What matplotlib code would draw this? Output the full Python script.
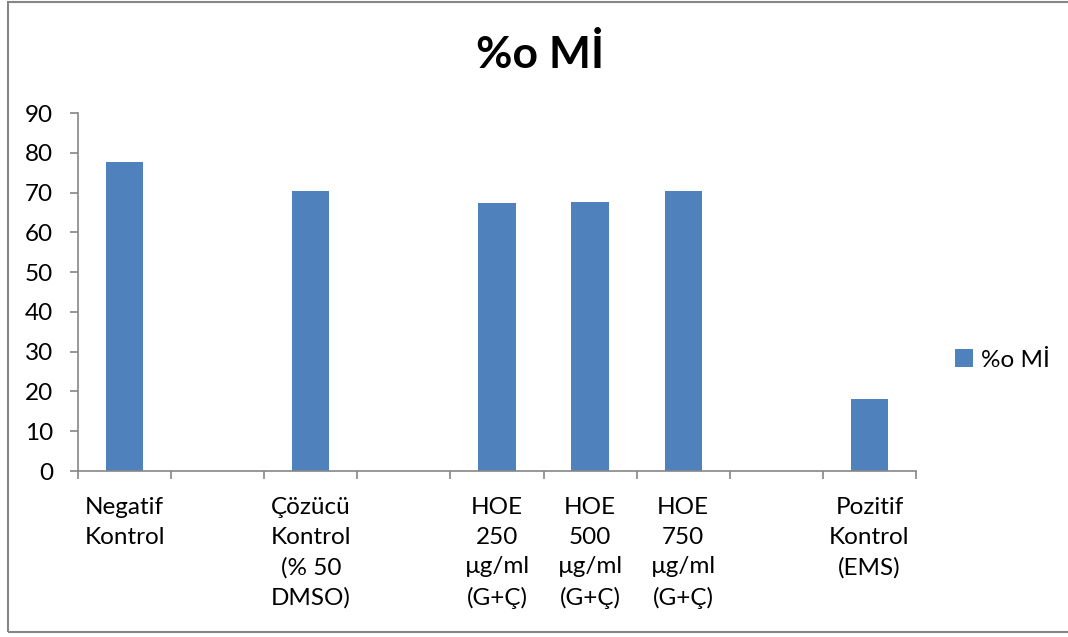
import matplotlib.pyplot as plt
from matplotlib.patches import Rectangle

# kategoriler (boş olanlar aradaki boşluk için)
labels = ['Negatif\nKontrol', '', 'Çözücü\nKontrol\n(% 50\nDMSO)', '',
          'HOE\n250\nµg/ml\n(G+Ç)', 'HOE\n500\nµg/ml\n(G+Ç)', 'HOE\n750\nµg/ml\n(G+Ç)',
          '', 'Pozitif\nKontrol\n(EMS)']
values = [77.6, 0, 70.4, 0, 67.4, 67.7, 70.4, 0, 18.1]
yticks = [0, 10, 20, 30, 40, 50, 60, 70, 80, 90]

plt.rcParams['font.family'] = ['Lato', 'DejaVu Sans']

fig = plt.figure(figsize=(10.68, 6.37), dpi=100)
ax = fig.add_axes([78 / 1068, 1 - 471 / 637, (916 - 78) / 1068, (471 - 113) / 637])

x = range(len(values))
bars = ax.bar(x, values, width=0.4, color='#4F81BD', label='%o Mİ')

ax.set_xlim(-0.5, len(values) - 0.5)
ax.set_ylim(0, 90)
ax.set_yticks(yticks)
ax.set_xticks([i - 0.5 for i in range(len(values) + 1)])
ax.set_xticklabels([])
ax.set_xticks(list(x), minor=True)
ax.set_xticklabels(labels, minor=True, fontsize=17.5, linespacing=1.5, va='top')
ax.tick_params(axis='x', which='minor', length=0, pad=19)
ax.tick_params(axis='x', which='major', length=6, color='#868686', width=1.2)
ax.tick_params(axis='y', length=6, color='#868686', width=1.2, labelsize=17.5, pad=12)

for s in ['top', 'right']:
    ax.spines[s].set_visible(False)
for s in ['left', 'bottom']:
    ax.spines[s].set_color('#868686')
    ax.spines[s].set_linewidth(1.2)

fig.text(540 / 1068, 1 - 55 / 637, '%o Mİ', ha='center', va='center',
         fontsize=32, fontweight='bold')

fig.legend(handles=[bars], loc='center left', bbox_to_anchor=(955 / 1068, 1 - 360 / 637),
           frameon=False, fontsize=17.5, handlelength=0.75, handleheight=0.75,
           handletextpad=0.3, borderaxespad=0, borderpad=0)

# çerçeve
fig.patches.append(Rectangle((8 / 1068, 1 - 632 / 637), 1.1, 630 / 637,
                             transform=fig.transFigure, fill=False,
                             edgecolor='#868686', linewidth=1.5))

fig.savefig('out.png', dpi=100)
